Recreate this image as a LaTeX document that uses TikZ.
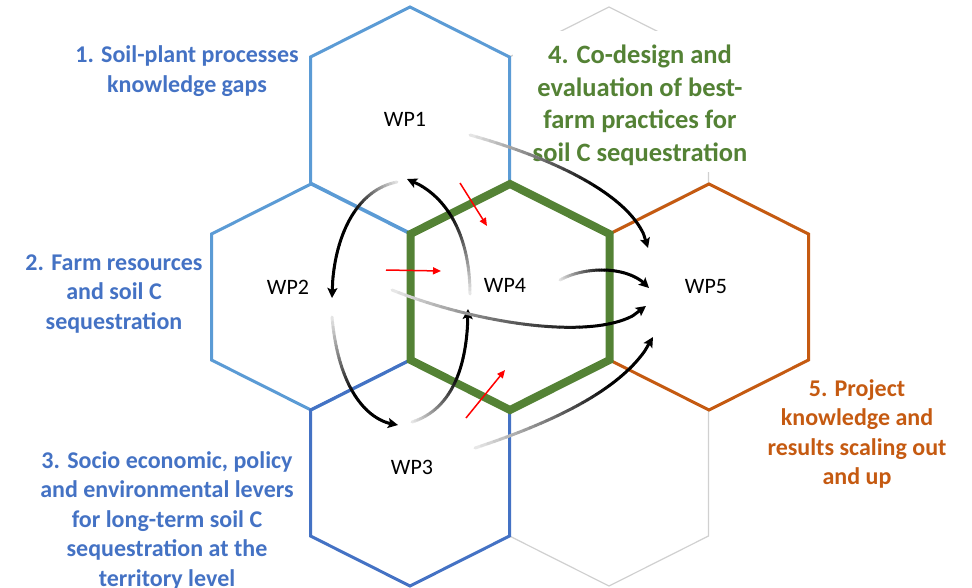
\documentclass[tikz,border=0pt]{standalone}
\usepackage{fontspec}
\setmainfont{Carlito}
\usetikzlibrary{arrows.meta}
\definecolor{lblue}{HTML}{5B9BD5}
\definecolor{dblue}{HTML}{4472C4}
\definecolor{hgreen}{HTML}{548235}
\definecolor{horange}{HTML}{C55A11}
\definecolor{hgray}{HTML}{D0D0D0}
\newcommand{\hexshape}[3]{\draw[#1] (#2,#3-113) -- ++(99.5,50) -- ++(0,126) -- ++(-99.5,50) -- ++(-99.5,-50) -- ++(0,-126) -- cycle;}
\newcommand{\gradarrow}[5]{%
  \foreach \gi in {1,...,36}{%
    \pgfmathsetmacro{\gta}{(\gi-1)/40}%
    \pgfmathsetmacro{\gtb}{\gi/40}%
    \pgfmathsetmacro{\gk}{min(100,6+94*\gtb/#5)}%
    \path (#1) .. controls (#2) and (#3) .. (#4) coordinate[pos=\gta] (gA) coordinate[pos=\gtb] (gB);%
    \draw[garrow, black!\gk] (gA) -- (gB);%
  }%
  \path (#1) .. controls (#2) and (#3) .. (#4) coordinate[pos=0.9] (gZ);%
  \draw[garrow, black, line cap=butt, -{Stealth[length=10pt,width=10pt,inset=2pt]}] (gZ) -- (#4);%
}
\tikzset{
  garrow/.style={line width=3pt, line cap=round},
  redarrow/.style={red, line width=1.5pt, -{Triangle[length=8pt,width=7pt]}},
  lab/.style={font=\bfseries\fontsize{24}{29.5}\selectfont, align=center, inner sep=0pt},
  biglab/.style={font=\bfseries\fontsize{26.5}{32.5}\selectfont, align=center, inner sep=0pt},
  wp/.style={font=\fontsize{22}{26}\selectfont, inner sep=0pt},
  grayhex/.style={hgray, line width=1.2pt},
  bluehex/.style={lblue, line width=3pt},
  dbluehex/.style={dblue, line width=3pt},
  orangehex/.style={horange, line width=3pt},
  greenhex/.style={hgreen, line width=8pt}
}
\begin{document}
\begin{tikzpicture}[x=1pt, y=-1pt]
\useasboundingbox (0,0) rectangle (972,587);
% hexagons
\hexshape{grayhex}{609}{120}
\hexshape{grayhex}{609}{473}
\hexshape{bluehex}{410}{120}
\hexshape{bluehex}{311}{297}
\hexshape{dbluehex}{410}{473}
\hexshape{orangehex}{709}{297}
\hexshape{greenhex}{510}{297}
% text box of label 4
\fill[white] (513,31) rectangle (762,172);
% labels
\node[lab, text=dblue] (l1) at (187,71) {1. Soil-plant processes\\knowledge gaps};
\node[lab, text=dblue] (l2) at (114,294) {2. Farm resources\\and soil C\\sequestration};
\node[lab, text=dblue] (l3) at (167,520.5) {3. Socio economic, policy\\and environmental levers\\for long-term soil C\\sequestration at the\\territory level};
\node[biglab, text=hgreen] (l4) at (640,105.5) {4. Co-design and\\evaluation of best-\\farm practices for\\soil C sequestration};
\node[lab, text=horange] (l5) at (857,434) {5. Project\\knowledge and\\results scaling out\\and up};
% WP names
\node[wp] (wp1) at (405,119) {WP1};
\node[wp] (wp2) at (288,287) {WP2};
\node[wp] (wp4) at (505,285) {WP4};
\node[wp] (wp5) at (706,287) {WP5};
\node[wp] (wp3) at (412,467) {WP3};
% connector end points
\coordinate (a1s) at (397,182); \coordinate (a1c) at (355,190); \coordinate (a1d) at (332,240); \coordinate (a1e) at (332,298);
\coordinate (a2s) at (470,294); \coordinate (a2c) at (470,240); \coordinate (a2d) at (450,195); \coordinate (a2e) at (407,179);
\coordinate (a3s) at (332,317); \coordinate (a3c) at (338,385); \coordinate (a3d) at (365,422); \coordinate (a3e) at (398,425);
\coordinate (a4s) at (412,422); \coordinate (a4c) at (450,410); \coordinate (a4d) at (468,370); \coordinate (a4e) at (468,309);
\coordinate (a5s) at (470,135); \coordinate (a5c) at (560,160); \coordinate (a5d) at (640,200); \coordinate (a5e) at (648,248);
\coordinate (a6s) at (560,280); \coordinate (a6c) at (585,266); \coordinate (a6d) at (630,265); \coordinate (a6e) at (649,288);
\coordinate (a7s) at (392,290); \coordinate (a7c) at (480,325); \coordinate (a7d) at (610,345); \coordinate (a7e) at (646,306);
\coordinate (a8s) at (475,448); \coordinate (a8c) at (560,420); \coordinate (a8d) at (630,385); \coordinate (a8e) at (653,337);
% gradient connectors
\gradarrow{a1s}{a1c}{a1d}{a1e}{0.45}
\gradarrow{a2s}{a2c}{a2d}{a2e}{0.6}
\gradarrow{a3s}{a3c}{a3d}{a3e}{0.5}
\gradarrow{a4s}{a4c}{a4d}{a4e}{0.6}
\gradarrow{a5s}{a5c}{a5d}{a5e}{0.55}
\gradarrow{a6s}{a6c}{a6d}{a6e}{0.5}
\gradarrow{a7s}{a7c}{a7d}{a7e}{0.7}
\gradarrow{a8s}{a8c}{a8d}{a8e}{0.65}
% red arrows
\coordinate (r1s) at (460,183); \coordinate (r1e) at (487,226);
\coordinate (r2s) at (386,270); \coordinate (r2e) at (441,271);
\coordinate (r3s) at (466,418); \coordinate (r3e) at (505,370);
\draw[redarrow] (r1s) -- (r1e);
\draw[redarrow] (r2s) -- (r2e);
\draw[redarrow] (r3s) -- (r3e);
\end{tikzpicture}
\end{document}
